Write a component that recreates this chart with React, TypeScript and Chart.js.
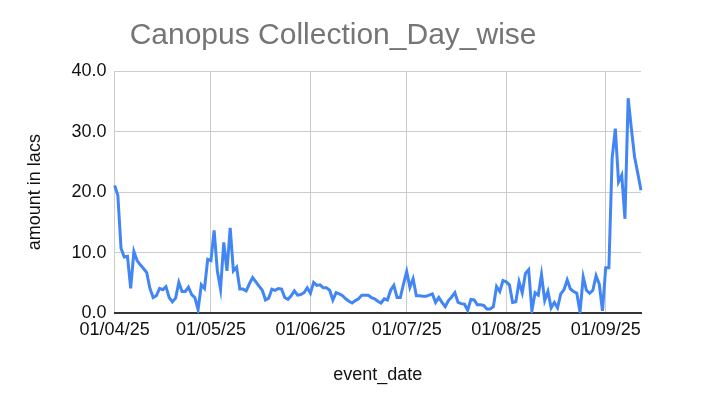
import React, { useEffect, useRef } from "react";
import { Chart, registerables } from "chart.js";

Chart.register(...registerables);

// Daily collection (amount in lacs)
const APR = [21.1, 19.5, 10.7, 9.3, 9.4, 4.1, 10.2, 8.7, 8.0, 7.4, 6.7, 4.1, 2.6, 2.9, 4.1, 3.9, 4.4, 2.6, 1.9, 2.5, 5.1, 3.6, 3.6, 4.3, 3.1, 2.6, 0.6, 4.7, 4.1, 8.9];
const MAY = [8.7, 13.7, 7.0, 4.0, 11.7, 7.0, 14.1, 7.0, 7.6, 4.0, 4.0, 3.7, 4.9, 5.9, 5.2, 4.5, 3.8, 2.2, 2.5, 4.0, 3.8, 4.1, 4.0, 2.6, 2.3, 2.9, 3.7, 3.0, 3.1, 3.4, 4.2];
const JUN = [3.3, 5.1, 4.6, 4.7, 4.2, 4.2, 3.8, 2.2, 3.4, 3.2, 2.9, 2.4, 2.0, 1.7, 2.1, 2.4, 3.0, 3.0, 3.0, 2.6, 2.4, 2.0, 1.7, 2.4, 2.2, 3.8, 4.6, 2.6, 2.6, 4.8];
const JUL = [6.9, 4.3, 5.7, 2.9, 2.9, 2.8, 2.8, 3.0, 3.2, 1.8, 2.6, 1.8, 1.1, 2.1, 2.7, 3.4, 1.8, 1.6, 1.5, 0.5, 2.3, 2.2, 1.4, 1.4, 1.3, 0.7, 0.7, 1.1, 4.4, 3.6, 5.4];
const AUG = [5.2, 4.7, 1.8, 1.9, 5.2, 3.4, 6.6, 7.2, 0.4, 3.4, 3.0, 6.4, 2.1, 3.6, 0.9, 1.8, 0.9, 3.2, 3.9, 5.5, 4.0, 3.6, 3.3, 0.2, 6.0, 3.8, 3.3, 3.8, 6.2, 4.8, 0.4];
const SEP = [7.5, 7.5, 25.6, 30.5, 21.7, 22.8, 15.6, 35.5, 30.5, 25.8, 23.1, 20.3];

const MONTHS: [string, number[]][] = [
  ["04", APR],
  ["05", MAY],
  ["06", JUN],
  ["07", JUL],
  ["08", AUG],
  ["09", SEP],
];

// Labels shown on the x axis
const TICK_LABELS = ["01/04/25", "01/05/25", "01/06/25", "01/07/25", "01/08/25", "01/09/25"];

const CATEGORIES: string[] = [];
const VALUES: number[] = [];
MONTHS.forEach(([mm, arr]) => {
  arr.forEach((v, d) => {
    CATEGORIES.push(`${String(d + 1).padStart(2, "0")}/${mm}/25`);
    VALUES.push(v);
  });
});

const TITLE = "Canopus Collection_Day_wise";
const FONT = "'Liberation Sans', Arial, Helvetica, sans-serif";

export default function App() {
  const ref = useRef<HTMLCanvasElement | null>(null);

  useEffect(() => {
    document.body.style.margin = "0";
    if (!ref.current) return;

    const titlePlugin = {
      id: "sheetTitle",
      afterDraw(chart: any) {
        const { ctx, chartArea } = chart;
        ctx.save();
        ctx.font = `30px ${FONT}`;
        ctx.fillStyle = "#757575";
        ctx.textAlign = "left";
        ctx.textBaseline = "alphabetic";
        ctx.fillText(TITLE, chartArea.left + 15, 44);
        ctx.restore();
      },
    };

    const chart = new Chart(ref.current, {
      type: "line",
      data: {
        labels: CATEGORIES,
        datasets: [
          {
            label: "amount",
            data: VALUES,
            borderColor: "#4285F4",
            backgroundColor: "#4285F4",
            borderWidth: 3,
            pointRadius: 0,
            pointHoverRadius: 0,
            tension: 0,
            fill: false,
          },
        ],
      },
      options: {
        animation: false,
        responsive: false,
        maintainAspectRatio: false,
        layout: { padding: { top: 71, left: 0, right: 81, bottom: 0 } },
        plugins: {
          legend: { display: false },
          title: { display: false },
          tooltip: { enabled: false },
        },
        scales: {
          x: {
            type: "category",
            grid: {
              color: "#cccccc",
              lineWidth: 1,
              drawTicks: false,
            },
            border: { display: true, color: "#333333", width: 2 },
            ticks: {
              autoSkip: false,
              maxRotation: 0,
              minRotation: 0,
              padding: 6,
              color: "#111111",
              font: { family: FONT, size: 18 },
              callback: function (this: any, _v: any, index: number) {
                const lab = CATEGORIES[index];
                return TICK_LABELS.includes(lab) ? lab : null;
              },
            },
            title: {
              display: true,
              text: "event_date",
              color: "#111111",
              font: { family: FONT, size: 18 },
              padding: { top: 17.5, bottom: 14 },
            },
          },
          y: {
            min: 0,
            max: 40,
            grid: { color: "#cccccc", lineWidth: 1, drawTicks: false },
            border: { display: false },
            ticks: {
              stepSize: 10,
              padding: 8,
              color: "#111111",
              font: { family: FONT, size: 18 },
              callback: (v: any) => Number(v).toFixed(1),
            },
            title: {
              display: true,
              text: "amount in lacs",
              color: "#111111",
              font: { family: FONT, size: 18 },
              padding: { top: 24, bottom: 18 },
            },
          },
        },
      },
      plugins: [titlePlugin],
    });

    return () => chart.destroy();
  }, []);

  return (
    <div style={{ width: 722, height: 400, background: "#ffffff" }}>
      <canvas ref={ref} width={722} height={400} style={{ display: "block", width: 722, height: 400 }} />
    </div>
  );
}
